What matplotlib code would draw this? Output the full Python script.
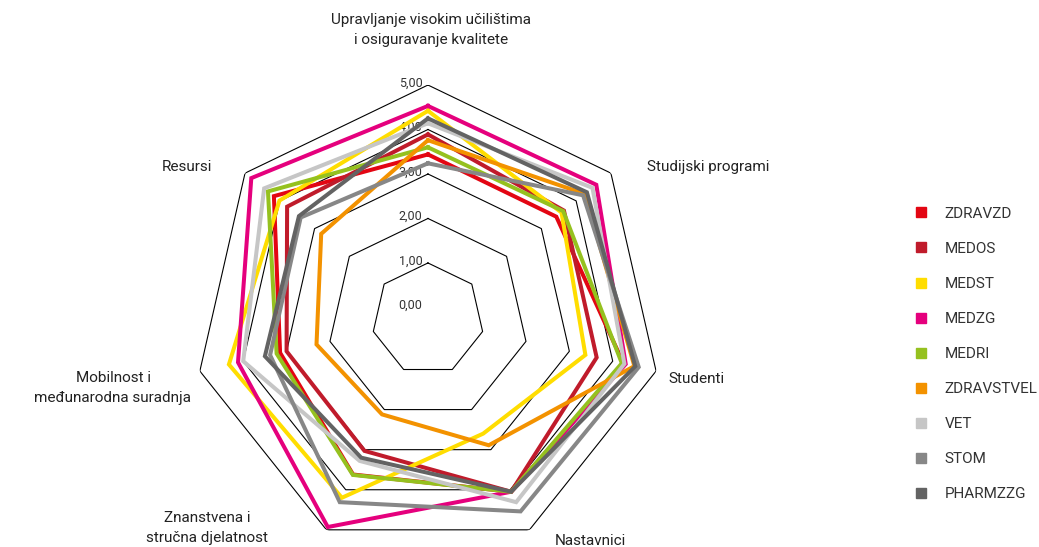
import numpy as np
import matplotlib
matplotlib.use("Agg")
import matplotlib.pyplot as plt
from matplotlib.lines import Line2D

# axes of the radar (clockwise from top)
categories = ["Upravljanje visokim učilištima\ni osiguravanje kvalitete",
              "Studijski programi", "Studenti", "Nastavnici",
              "Znanstvena i\nstručna djelatnost",
              "Mobilnost i\nmeđunarodna suradnja", "Resursi"]

names = ["ZDRAVZD", "MEDOS", "MEDST", "MEDZG", "MEDRI",
         "ZDRAVSTVEL", "VET", "STOM", "PHARMZZG"]
colors = ["#e30613", "#c01b2b", "#ffdd00", "#e5007d", "#95c11f",
          "#f39200", "#c6c6c6", "#878787", "#636363"]

zdravzd    = [3.44, 3.43, 4.25, 4.05, 3.62, 3.15, 4.17]
medos      = [3.89, 3.65, 3.63, 4.05, 3.03, 3.00, 3.79]
medst      = [4.42, 3.58, 3.37, 2.60, 4.20, 4.33, 4.01]
medzg      = [4.53, 4.58, 4.30, 4.05, 4.93, 4.12, 4.82]
medri      = [3.60, 3.63, 4.21, 4.05, 3.63, 3.23, 4.34]
zdravstvel = [3.76, 4.25, 4.50, 2.89, 2.12, 2.31, 2.81]
vet        = [4.14, 4.47, 4.27, 4.31, 3.28, 4.00, 4.45]
stom       = [3.24, 4.20, 4.60, 4.54, 4.31, 3.38, 3.40]
pharmzzg   = [4.25, 4.31, 4.52, 4.05, 3.20, 3.50, 3.45]
series = [zdravzd, medos, medst, medzg, medri, zdravstvel, vet, stom, pharmzzg]

levels = [1, 2, 3, 4, 5]
tick_labels = ["0,00", "1,00", "2,00", "3,00", "4,00", "5,00"]

plt.rcParams['font.family'] = ['Roboto', 'DejaVu Sans']
W, H = 1039, 547
fig = plt.figure(figsize=(W / 100, H / 100), dpi=100)
ax = fig.add_axes([0.1867, -0.011, 0.4504, 0.8556], projection='polar')
ax.set_theta_zero_location('N')
ax.set_theta_direction(-1)
ax.set_ylim(-0.26, 5)
ax.grid(False)
ax.spines['polar'].set_visible(False)
ax.set_xticks([])
ax.set_yticks([])

n = len(categories)
ang = np.linspace(0, 2 * np.pi, n, endpoint=False)
ang_c = np.append(ang, ang[0])

# heptagon grid
for lv in levels:
    ax.plot(ang_c, [lv] * (n + 1), color='black', lw=0.8, zorder=1)

# value labels along the top axis
for i, t in enumerate(tick_labels):
    ax.annotate(t, xy=(0, i), xytext=(-4, 1.5), textcoords='offset points',
                ha='right', va='center', fontsize=9, color='#333333')

for vals, c in zip(series, colors):
    ax.plot(ang_c, vals + vals[:1], color=c, lw=2.9, zorder=3,
            solid_joinstyle='miter')

# category labels (pixel positions)
label_pos = [(431, 30, 'center'), (647, 167, 'left'), (668, 379, 'left'),
             (590, 541, 'center'), (207, 528, 'center'), (113, 388, 'center'),
             (187, 167, 'center')]
for txt, (x, y, ha) in zip(categories, label_pos):
    fig.text(x / W, 1 - y / H, txt, ha=ha, va='center', fontsize=11,
             color='#222222', linespacing=1.5)

handles = [Line2D([], [], marker='s', color=c, ls='none', markersize=7)
           for c in colors]
fig.legend(handles, names, loc='upper left', bbox_to_anchor=(900 / W, 1 - 193 / H),
           frameon=False, fontsize=11, labelspacing=1.38, handletextpad=1.0,
           handlelength=1.0, labelcolor='#333333')

fig.savefig('out.png', dpi=100)
